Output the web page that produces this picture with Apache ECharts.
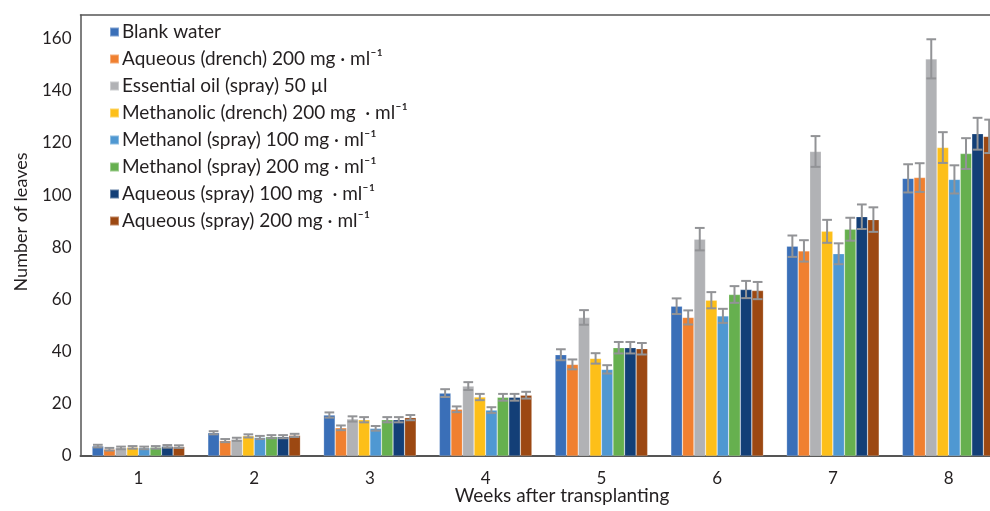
<!DOCTYPE html>
<html>
<head>
<meta charset="utf-8">
<script src="https://cdn.jsdelivr.net/npm/echarts@6/dist/echarts.min.js"></script>
<style>
html,body{margin:0;padding:0;background:#fff;overflow:hidden;width:990px;height:511px;}
#chart{width:1012px;height:511px;}
</style>
</head>
<body>
<div id="chart"></div>
<script>
const categories = ['1', '2', '3', '4', '5', '6', '7', '8'];
const yTicks = [0, 20, 40, 60, 80, 100, 120, 140, 160];

const seriesNames = [
  'Blank water',
  'Aqueous (drench) 200 mg · ml⁻¹',
  'Essential oil (spray) 50 µl',
  'Methanolic (drench) 200 mg  · ml⁻¹',
  'Methanol (spray) 100 mg · ml⁻¹',
  'Methanol (spray) 200 mg · ml⁻¹',
  'Aqueous (spray) 100 mg  · ml⁻¹',
  'Aqueous (spray) 200 mg · ml⁻¹'
];

const blankWater        = [3.8, 8.9, 15.7, 24.1, 38.8, 57.4, 80.4, 106.4];
const aqueousDrench200  = [2.6, 5.9, 10.8, 17.9, 35.1, 53.1, 78.6, 106.7];
const essentialOil50    = [3.1, 6.4, 14.2, 26.8, 53.1, 83.1, 116.7, 152.2];
const methanolicDrench200 = [3.3, 7.7, 13.9, 22.6, 37.4, 59.7, 86.1, 118.2];
const methanolSpray100  = [3.1, 7.1, 10.6, 17.6, 33.2, 53.7, 77.5, 106.0];
const methanolSpray200  = [3.3, 7.4, 13.9, 22.5, 41.5, 61.9, 86.9, 115.9];
const aqueousSpray100   = [3.7, 7.4, 13.9, 22.5, 41.5, 63.8, 91.7, 123.5];
const aqueousSpray200   = [3.6, 7.9, 14.7, 23.3, 41.1, 63.4, 90.6, 122.5];

const blankWaterErr        = [0.5, 0.6, 1.0, 1.5, 2.1, 3.0, 4.1, 5.4];
const aqueousDrench200Err  = [0.5, 0.6, 0.9, 1.1, 1.9, 2.7, 4.1, 5.5];
const essentialOil50Err    = [0.5, 0.6, 1.0, 1.5, 2.8, 4.3, 5.9, 7.5];
const methanolicDrench200Err = [0.5, 0.6, 1.0, 1.2, 2.0, 3.1, 4.4, 5.9];
const methanolSpray100Err  = [0.5, 0.6, 0.9, 1.1, 1.6, 2.7, 4.0, 5.4];
const methanolSpray200Err  = [0.5, 0.6, 1.0, 1.3, 2.2, 3.2, 4.4, 5.9];
const aqueousSpray100Err   = [0.5, 0.6, 1.0, 1.3, 2.2, 3.3, 4.7, 6.1];
const aqueousSpray200Err   = [0.5, 0.6, 1.0, 1.3, 2.2, 3.3, 4.7, 6.4];

const allValues = [blankWater, aqueousDrench200, essentialOil50, methanolicDrench200,
  methanolSpray100, methanolSpray200, aqueousSpray100, aqueousSpray200];
const allErrors = [blankWaterErr, aqueousDrench200Err, essentialOil50Err, methanolicDrench200Err,
  methanolSpray100Err, methanolSpray200Err, aqueousSpray100Err, aqueousSpray200Err];
const colors = ['#3a6fb8', '#f08030', '#b1b2b5', '#fdbf19', '#4f98d2', '#66b04f', '#133f77', '#9c4812'];

const FONT = 'Lato, "Liberation Sans", sans-serif';
const TXT = '#231f20';
const nSeries = seriesNames.length;
const catGapRatio = 0.2;

const series = [];
allValues.forEach((vals, i) => {
  series.push({
    name: seriesNames[i],
    type: 'bar',
    data: vals,
    barGap: '0%',
    barCategoryGap: '20%',
    itemStyle: { color: colors[i], borderColor: 'rgba(255,255,255,0.35)', borderWidth: 0.6 },
    z: 2
  });
});
allValues.forEach((vals, i) => {
  const errData = vals.map((v, k) => [k, v - allErrors[i][k], v + allErrors[i][k], v]);
  series.push({
    type: 'custom',
    z: 5,
    silent: true,
    encode: { x: 0, y: [1, 2] },
    data: errData,
    renderItem: function (params, api) {
      const cat = api.value(0);
      const lo = api.coord([cat, api.value(1)]);
      const hi = api.coord([cat, api.value(2)]);
      const band = api.size([1, 0])[0];
      const groupW = band * (1 - catGapRatio);
      const barW = groupW / nSeries;
      const x = lo[0] - groupW / 2 + barW * (i + 0.5);
      const cap = barW * 0.42;
      const st = { stroke: '#929396', lineWidth: 2 };
      return {
        type: 'group',
        children: [
          { type: 'line', shape: { x1: x, y1: lo[1], x2: x, y2: hi[1] }, style: st },
          { type: 'line', shape: { x1: x - cap, y1: hi[1], x2: x + cap, y2: hi[1] }, style: st },
          { type: 'line', shape: { x1: x - cap, y1: lo[1], x2: x + cap, y2: lo[1] }, style: st }
        ]
      };
    }
  });
});

const chart = echarts.init(document.getElementById('chart'));
chart.setOption({
  animation: false,
  backgroundColor: '#fff',
  grid: { left: 80.5, top: 15, right: 5.5, height: 441 },
  legend: {
    data: seriesNames,
    orient: 'vertical',
    left: 104,
    top: 17,
    itemWidth: 9,
    itemHeight: 9,
    itemGap: 7,
    icon: 'rect',
    textStyle: { fontFamily: FONT, fontSize: 19, color: TXT, lineHeight: 20, padding: [0, 0, 0, -2] }
  },
  xAxis: [{
    type: 'category',
    data: categories,
    axisLine: { lineStyle: { color: '#555', width: 2 } },
    axisTick: { show: false },
    axisLabel: { fontFamily: FONT, fontSize: 17, color: TXT, margin: 14 }
  }, {
    type: 'category',
    position: 'top',
    data: categories,
    axisLine: { show: true, onZero: false, lineStyle: { color: '#555', width: 1.5 } },
    axisTick: { show: false },
    axisLabel: { show: false }
  }],
  yAxis: {
    type: 'value',
    min: yTicks[0],
    max: 169,
    interval: yTicks[1] - yTicks[0],
    axisLine: { show: true, lineStyle: { color: '#555', width: 1.5 } },
    axisTick: { show: false },
    splitLine: { show: false },
    axisLabel: { fontFamily: FONT, fontSize: 17, color: TXT, margin: 9, showMaxLabel: false }
  },
  graphic: [
    {
      type: 'text',
      x: 21, y: 222,
      rotation: Math.PI / 2,
      style: { text: 'Number of leaves', font: '18px ' + FONT, fill: TXT, align: 'center', verticalAlign: 'middle' }
    },
    {
      type: 'text',
      x: 562, y: 496,
      style: { text: 'Weeks after transplanting', font: '19px ' + FONT, fill: TXT, align: 'center', verticalAlign: 'middle' }
    }
  ],
  series: series
});
</script>
</body>
</html>
